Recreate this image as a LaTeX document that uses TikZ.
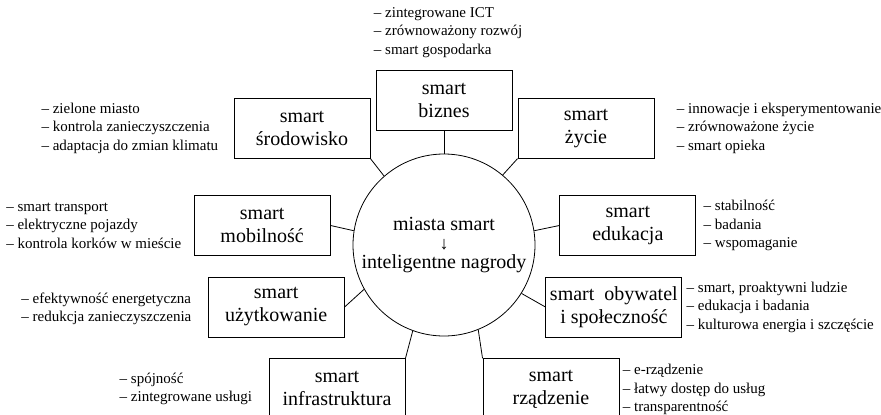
\documentclass[tikz,border=0pt]{standalone}
\usepackage{fontspec}
\setmainfont{Liberation Serif}
\usetikzlibrary{positioning}

\begin{document}
\begin{tikzpicture}
  [
    x=1pt, y=-1pt, line width=0.8pt,
    city/.style={circle,draw,inner sep=0pt,minimum size=182pt,align=center,
      font=\fontsize{20}{19}\selectfont},
    area/.style={rectangle,draw,line width=0.9pt,inner sep=0pt,minimum width=136pt,
      minimum height=60pt,align=center,font=\fontsize{20}{23}\selectfont},
    notes/.style={inner sep=0pt,align=left,font=\fontsize{15}{18.5}\selectfont}
  ]
  \useasboundingbox (0,0) rectangle (881,415);
  \clip (0,0) rectangle (881,415);
  \node[city] (miasto) at (444,245)
    {miasta smart\\{\fontsize{18}{19}\selectfont\raisebox{-0.5pt}{↓}}\\inteligentne nagrody};
  % obszary dookola
  \node[area] (biznes) [above=23pt of miasto] {smart\\biznes};
  \node[area] (srodowisko) [above=-5pt of miasto, xshift=-142pt] {smart\\środowisko};
  \node[area] (zycie) [above=-5pt of miasto, xshift=142pt] {smart\\życie};
  \node[area] (mobilnosc) [left=22pt of miasto, yshift=19.5pt] {smart\\mobilność};
  \node[area] (edukacja) [right=24pt of miasto, yshift=19.5pt] {smart\\edukacja};
  \node[area] (uzytkowanie) [left=8pt of miasto, yshift=-62pt] {smart\\użytkowanie};
  \node[area] (obywatel) [right=10pt of miasto, yshift=-62pt] {smart\ \ obywatel\\i społeczność};
  \node[area] (infrastruktura) [below=22pt of miasto, xshift=-107pt] {smart\\infrastruktura};
  \node[area] (rzadzenie) [below=22pt of miasto, xshift=107pt] {smart\\rządzenie};
  % opisy
  \node[notes] (biznes list) [above=12pt of biznes.north west, anchor=south west, xshift=-2pt]
    {– zintegrowane ICT\\– zrównoważony rozwój\\– smart gospodarka};
  \node[notes] (srodowisko list) [left=15pt of srodowisko]
    {– zielone miasto\\– kontrola zanieczyszczenia\\– adaptacja do zmian klimatu};
  \node[notes] (zycie list) [right=22pt of zycie]
    {– innowacje i eksperymentowanie\\– zrównoważone życie\\– smart opieka};
  \node[notes] (mobilnosc list) [left=12pt of mobilnosc]
    {– smart transport\\– elektryczne pojazdy\\– kontrola korków w mieście};
  \node[notes] (edukacja list) [right=7pt of edukacja]
    {– stabilność\\– badania\\– wspomaganie};
  \node[notes] (uzytkowanie list) [left=16pt of uzytkowanie, yshift=-2pt]
    {– efektywność energetyczna\\– redukcja zanieczyszczenia};
  \node[notes] (obywatel list) [right=4pt of obywatel]
    {– smart, proaktywni ludzie\\– edukacja i badania\\– kulturowa energia i szczęście};
  \node[notes] (infrastruktura list) [left=16pt of infrastruktura]
    {– spójność\\– zintegrowane usługi};
  \node[notes] (rzadzenie list) [right=3pt of rzadzenie, yshift=-1pt]
    {– e-rządzenie\\– łatwy dostęp do usług\\– transparentność};
  % polaczenia
  \draw (biznes) -- (miasto);
  \draw (srodowisko.south east) -- (miasto.131);
  \draw (zycie.south west) -- (miasto.50);
  \draw (mobilnosc.east) -- (miasto.171);
  \draw (edukacja.west) -- (miasto.9);
  \draw (uzytkowanie.east) -- (miasto.209);
  \draw (obywatel.west) -- (miasto.-32);
  \draw (infrastruktura.north east) -- (miasto.250);
  \draw (rzadzenie.north west) -- (miasto.-68);
\end{tikzpicture}
\end{document}
